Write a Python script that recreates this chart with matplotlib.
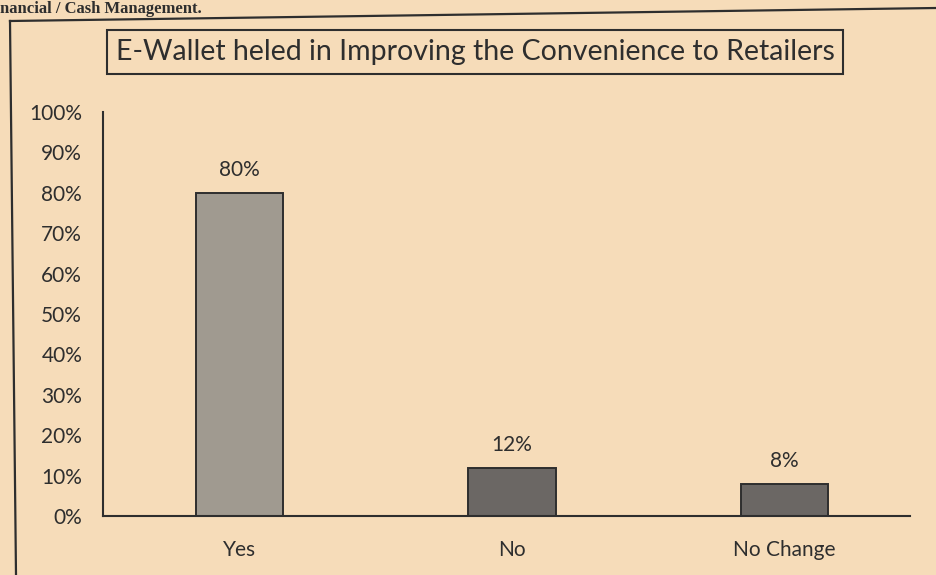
import matplotlib
matplotlib.use("Agg")
import matplotlib.pyplot as plt
from matplotlib.ticker import PercentFormatter

categories = ["Yes", "No", "No Change"]
values = [80, 12, 8]
value_labels = ["80%", "12%", "8%"]
yticks = [0, 10, 20, 30, 40, 50, 60, 70, 80, 90, 100]
title = "E-Wallet heled in Improving the Convenience to Retailers"
page_text = "nancial / Cash Management."

paper = "#f6dcb9"
bar_colors = ["#a09a90", "#6b6764", "#6b6764"]
ink = "#2e2e2e"

plt.rcParams['font.family'] = ['Lato', 'DejaVu Sans']

W, H = 936, 575
fig = plt.figure(figsize=(W / 100, H / 100), dpi=100, facecolor=paper)

# page text above the chart frame
fig.text(0.0, 0.999, page_text, fontsize=12, family=['Liberation Serif'],
         weight='bold', color=ink, ha='left', va='top')
# outer chart frame (slightly tilted as in the scan)
fig.add_artist(plt.Line2D([10 / W, 1.0], [1 - 21 / H, 1 - 8 / H], transform=fig.transFigure,
                          color=ink, lw=1.6))
fig.add_artist(plt.Line2D([10 / W, 16 / W], [1 - 21 / H, 0.0], transform=fig.transFigure,
                          color=ink, lw=1.6))

ax = fig.add_axes([103 / W, 1 - 516 / H, 807 / W, 404 / H])
ax.set_facecolor(paper)
x = list(range(len(categories)))
ax.bar(x, values, width=0.32, color=bar_colors, edgecolor=ink, linewidth=1.4)
for xi, v, lab in zip(x, values, value_labels):
    ax.text(xi, v + 3.2, lab, ha='center', va='bottom', fontsize=15, color=ink)

ax.set_xlim(-0.5, 2.46)
ax.set_ylim(0, 100)
ax.set_yticks(yticks)
ax.yaxis.set_major_formatter(PercentFormatter(decimals=0))
ax.set_xticks(x)
ax.set_xticklabels(categories)
ax.tick_params(axis='y', length=0, labelsize=15, colors=ink, pad=15)
ax.tick_params(axis='x', length=0, labelsize=15, colors=ink, pad=17)
for s in ['top', 'right']:
    ax.spines[s].set_visible(False)
for s in ['left', 'bottom']:
    ax.spines[s].set_color(ink)
    ax.spines[s].set_linewidth(1.5)

# boxed title
fig.text(475 / W, 1 - 52 / H, title, ha='center', va='center', fontsize=20.5, color=ink,
         bbox=dict(boxstyle='square,pad=0.3', facecolor=paper, edgecolor=ink, linewidth=1.5))

fig.savefig("out.png", dpi=100, facecolor=paper)
